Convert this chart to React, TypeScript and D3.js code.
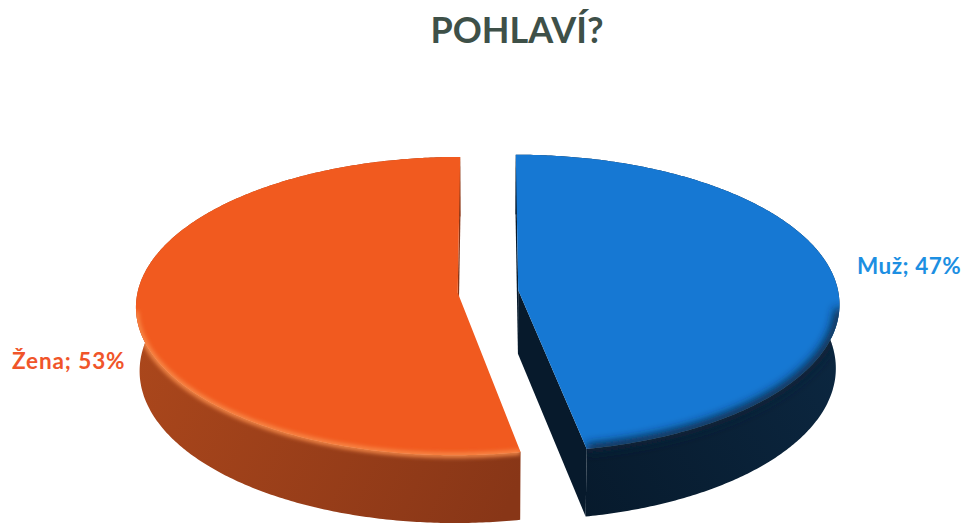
import React from "react";
import * as d3 from "d3";

const title = "POHLAVÍ?";
const categories = ["Muž", "Žena"];
const values = [47, 53];
const topColors = ["#1678D3", "#F15A1F"];
const wallColorsA = ["#0C2842", "#AD481C"];
const wallColorsB = ["#071A2C", "#883617"];
const labelColors = ["#1C8FE2", "#F0552A"];

const W = 966;
const H = 526;
const CX = 488;
const CY = 291.5;
const D = 10;
const F = 3200;
const ALPHA = (27.5 * Math.PI) / 180;
const HGT = 0.226;
const EXPL = 0.095;

function project(x: number, Y: number, z: number): [number, number] {
  const depth = D + z * Math.cos(ALPHA) - Y * Math.sin(ALPHA);
  const up = Y * Math.cos(ALPHA) + z * Math.sin(ALPHA);
  return [CX + (F * x) / depth, CY - (F * up) / depth];
}

function facing(nx: number, nz: number, px: number, pz: number) {
  return nx * (0 - px) + nz * (-D * Math.cos(ALPHA) - pz) > 0;
}

const poly = (pts: [number, number][]) =>
  "M" + pts.map((p) => p[0].toFixed(2) + "," + p[1].toFixed(2)).join("L") + "Z";
const line = (pts: [number, number][]) =>
  "M" + pts.map((p) => p[0].toFixed(2) + "," + p[1].toFixed(2)).join("L");

export default function App() {
  const pie = d3.pie<number>().sort(null).value((d) => d);
  const arcs = pie(values);

  const slices = arcs.map((a, i) => {
    const mid = (a.startAngle + a.endAngle) / 2;
    const ox = EXPL * Math.sin(mid);
    const oz = EXPL * Math.cos(mid);
    const n = Math.ceil((a.endAngle - a.startAngle) / 0.01);
    const angs = d3.range(n + 1).map((k) => a.startAngle + ((a.endAngle - a.startAngle) * k) / n);
    const ptTop = (p: number) => project(ox + Math.sin(p), 0, oz + Math.cos(p));
    const ptBot = (p: number) => project(ox + Math.sin(p), -HGT, oz + Math.cos(p));
    const cTop = project(ox, 0, oz);
    const cBot = project(ox, -HGT, oz);
    const topPath = poly([cTop, ...angs.map(ptTop)]);
    const wallPath = poly([...angs.map(ptTop), ...angs.slice().reverse().map(ptBot)]);
    const faces: string[] = [];
    {
      const nx = -Math.cos(a.startAngle), nz = Math.sin(a.startAngle);
      if (facing(nx, nz, ox, oz))
        faces.push(poly([cTop, ptTop(a.startAngle), ptBot(a.startAngle), cBot]));
    }
    {
      const nx = Math.cos(a.endAngle), nz = -Math.sin(a.endAngle);
      if (facing(nx, nz, ox, oz))
        faces.push(poly([cTop, ptTop(a.endAngle), ptBot(a.endAngle), cBot]));
    }
    const front = angs.filter((p) =>
      facing(Math.sin(p), Math.cos(p), ox + Math.sin(p), oz + Math.cos(p))
    );
    const frontPath = front.length > 1 ? line(front.map(ptTop)) : "";
    return { i, topPath, wallPath, faces, frontPath };
  });

  return (
    <svg width={W} height={H} style={{ display: "block", position: "absolute", left: 0, top: 0 }}>
      <defs>
        {slices.map((s) => (
          <linearGradient
            key={"g" + s.i}
            id={"wall" + s.i}
            gradientUnits="userSpaceOnUse"
            x1={s.i === 0 ? 840 : 130}
            y1={300}
            x2={s.i === 0 ? 560 : 520}
            y2={480}
          >
            <stop offset="0" stopColor={wallColorsA[s.i]} />
            <stop offset="1" stopColor={wallColorsB[s.i]} />
          </linearGradient>
        ))}
        <filter id="blur2" x="-10%" y="-10%" width="120%" height="120%">
          <feGaussianBlur stdDeviation="2" />
        </filter>
        <filter id="blur5" x="-10%" y="-10%" width="120%" height="120%">
          <feGaussianBlur stdDeviation="5" />
        </filter>
        {slices.map((s) => (
          <clipPath key={"c" + s.i} id={"clip" + s.i}>
            <path d={s.topPath} />
            <path d={s.wallPath} />
          </clipPath>
        ))}
      </defs>
      <rect width={W} height={H} fill="#ffffff" />
      <text
        x={517}
        y={43}
        textAnchor="middle"
        fontFamily="Lato, 'Open Sans', sans-serif"
        fontWeight={700}
        fontSize={36}
        fill="#3E5048"
      >
        {title}
      </text>
      {slices.map((s) => (
        <g key={s.i}>
          <path d={s.wallPath} fill={`url(#wall${s.i})`} />
          {s.faces.map((f, k) => (
            <path key={k} d={f} fill={wallColorsB[s.i]} />
          ))}
          <path d={s.topPath} fill={topColors[s.i]} />
          <g clipPath={`url(#clip${s.i})`}>
            {s.i === 0 ? (
              <path d={s.frontPath} fill="none" stroke="#0A2238" strokeWidth={9} filter="url(#blur5)" />
            ) : (
              <path d={s.frontPath} fill="none" stroke="#F88A4A" strokeWidth={5} filter="url(#blur2)" />
            )}
          </g>
        </g>
      ))}
      <text
        x={857}
        y={274}
        fontFamily="Lato, 'Open Sans', sans-serif"
        fontWeight={700}
        fontSize={22.5}
        letterSpacing={0.5}
        fill={labelColors[0]}
      >
        {`${categories[0]}; ${values[0]}%`}
      </text>
      <text
        x={12}
        y={369}
        fontFamily="Lato, 'Open Sans', sans-serif"
        fontWeight={700}
        fontSize={22.5}
        letterSpacing={0.9}
        fill={labelColors[1]}
      >
        {`${categories[1]}; ${values[1]}%`}
      </text>
    </svg>
  );
}
